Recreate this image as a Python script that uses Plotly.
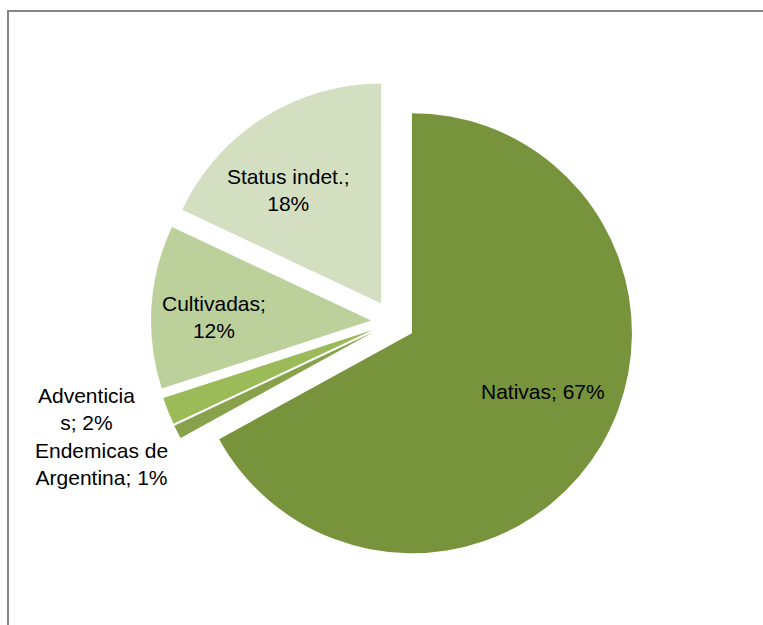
import plotly.graph_objects as go

labels = ["Nativas", "Endemicas de Argentina", "Adventicias", "Cultivadas", "Status indet."]
values = [67, 1, 2, 12, 18]
colors = ["#77933C", "#87A24B", "#9BBB59", "#BBD09A", "#D3DFC0"]
label_text = ["Nativas; 67%", "Endemicas de<br>Argentina; 1%", "Adventicia<br>s; 2%",
              "Cultivadas;<br>12%", "Status indet.;<br>18%"]

W, H = 763, 625
cx, cy = 393, 322
half = 242

fig = go.Figure(go.Pie(
    labels=labels,
    values=values,
    sort=False,
    direction="clockwise",
    rotation=0,
    pull=[0.1] * len(values),
    marker=dict(colors=colors, line=dict(width=0)),
    textinfo="none",
    domain=dict(x=[(cx - half) / W, (cx + half) / W],
                y=[(H - cy - half) / H, (H - cy + half) / H]),
    showlegend=False,
    hoverinfo="label+percent",
))

# data-label placement (pixel centres of each label block)
label_pos = [(543, 391), (101, 464), (86, 409), (214, 317), (288, 190)]
for txt, (px, py) in zip(label_text, label_pos):
    fig.add_annotation(x=px / W, y=1 - py / H, xref="paper", yref="paper",
                       xanchor="center", yanchor="middle",
                       text=txt, showarrow=False, align="center",
                       font=dict(family="Liberation Sans, Arial, sans-serif", size=21, color="#000000"))

fig.add_shape(type="rect", xref="paper", yref="paper",
              x0=8 / W, x1=1.2, y0=-0.2, y1=1 - 11 / H,
              line=dict(color="#868686", width=2), fillcolor="rgba(0,0,0,0)")

fig.update_layout(width=W, height=H, margin=dict(l=0, r=0, t=0, b=0),
                  paper_bgcolor="white", plot_bgcolor="white")

fig.write_html("out.html")
